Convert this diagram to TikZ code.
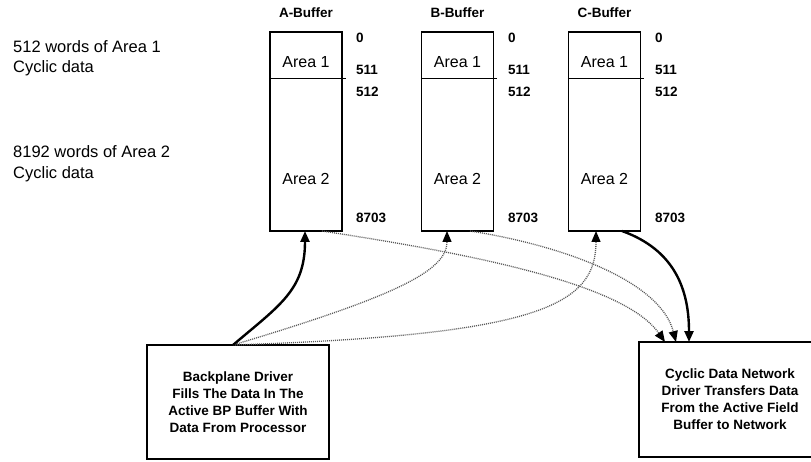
\documentclass[tikz,border=0pt]{standalone}
\usepackage{fontspec}
\setmainfont{Liberation Sans}
\usetikzlibrary{arrows.meta,calc}
\begin{document}
\begin{tikzpicture}[x=1pt,y=-1pt,
 buf/.style={draw,line width=1.2pt,minimum width=72pt,minimum height=199pt,inner sep=0pt},
 hdr/.style={font=\fontsize{13.5}{16}\selectfont\bfseries},
 num/.style={font=\fontsize{13.5}{16}\selectfont\bfseries,anchor=west,inner sep=0pt},
 area/.style={font=\fontsize{16}{19}\selectfont},
 side/.style={font=\fontsize{16.5}{20.5}\selectfont,anchor=west,align=left,inner sep=0pt},
 drv/.style={draw,line width=1.2pt,align=center,inner sep=0pt,font=\fontsize{13.5}{17}\selectfont\bfseries},
 thickarr/.style={line width=2.4pt,-{Triangle[length=11pt,width=9pt]}},
 dotarr/.style={black!65,line width=1.3pt,dash pattern=on 1pt off 1pt,-{Triangle[length=11pt,width=9pt,color=black]}}
]
\useasboundingbox (0,0) rectangle (811,462);

% left descriptions
\node[side] (s1) at (13,58) {512 words of Area 1\\Cyclic data};
\node[side] (s2) at (13,163.5) {8192 words of Area 2\\Cyclic data};

% buffers
\node[buf] (A) at (306,131.5) {};
\node[buf] (B) at (457.5,131.5) {};
\node[buf] (C) at (604.5,131.5) {};
\foreach \b in {A,B,C}{
  \draw[line width=1.2pt] ([yshift=-47pt]\b.north west) -- ([yshift=-47pt,xshift=3pt]\b.north east);
}
\node[hdr] (hA) at (306,13) {A-Buffer};
\node[hdr] (hB) at (457.5,13) {B-Buffer};
\node[hdr] (hC) at (604.5,13) {C-Buffer};

\node[area] (A1) at (306,62) {Area 1};
\node[area] (A2) at (306,179) {Area 2};
\node[area] (B1) at (457.5,62) {Area 1};
\node[area] (B2) at (457.5,179) {Area 2};
\node[area] (C1) at (604.5,62) {Area 1};
\node[area] (C2) at (604.5,179) {Area 2};

\foreach \n/\x in {a/356,b/508,c/655}{
  \node[num] (\n0) at (\x,38) {0};
  \node[num] (\n511) at (\x,70) {511};
  \node[num] (\n512) at (\x,92) {512};
  \node[num] (\n8703) at (\x,218) {8703};
}

% drivers
\node[drv,minimum width=182pt,minimum height=114pt] (bd) at (238,402)
  {Backplane Driver\\Fills The Data In The\\Active BP Buffer With\\Data From Processor};
\node[drv,minimum width=182pt,minimum height=115pt] (nd) at (730,399.5)
  {Cyclic Data Network\\Driver Transfers Data\\From the Active Field\\Buffer to Network};

% connector end points
\coordinate (bdo) at (233,345);
\coordinate (aIn) at (305,231);
\coordinate (bIn) at (447,231);
\coordinate (cIn) at (596,231);
\coordinate (aOut) at (322,231);
\coordinate (bOut) at (470,231);
\coordinate (cOut) at (622,231);
\coordinate (n1) at (665,342);
\coordinate (n2) at (676,342);
\coordinate (n3) at (689,342);

\draw[dotarr] (bdo) .. controls (400,295) and (447,270) .. (bIn);
\draw[dotarr] (bdo) .. controls (540,335) and (596,305) .. (cIn);
\draw[dotarr] (aOut) .. controls (480,255) and (625,285) .. (n1);
\draw[dotarr] (bOut) .. controls (560,245) and (660,280) .. (n2);
\draw[thickarr] (bdo) .. controls (280,305) and (305,290) .. (aIn);
\draw[thickarr] (cOut) .. controls (675,250) and (689,290) .. (n3);
\end{tikzpicture}
\end{document}
